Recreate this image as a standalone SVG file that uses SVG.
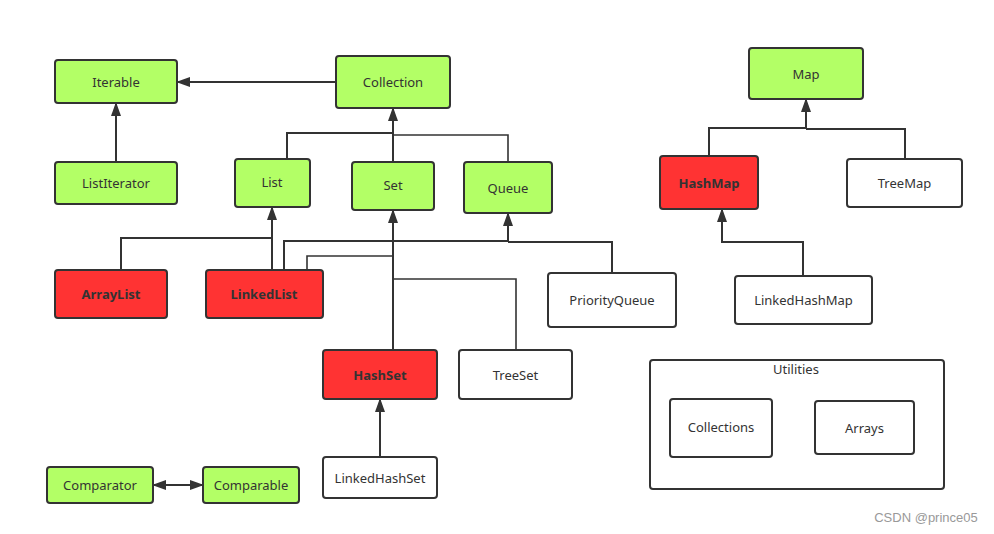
<svg xmlns="http://www.w3.org/2000/svg" width="994" height="534" viewBox="0 0 994 534">
<style>
.n rect{stroke:#333;stroke-width:2}
.g rect{fill:#b3ff66}
.r rect{fill:#ff3333}
.w rect{fill:#fff}
text{font-family:"Noto Sans","Open Sans","Liberation Sans",sans-serif;font-size:13px;fill:#333;text-anchor:middle;dominant-baseline:central}
.r text{font-weight:bold}
#conn path{fill:none;stroke:#333;stroke-width:2}
</style>
<defs>
<marker id="ah" markerUnits="userSpaceOnUse" markerWidth="14" markerHeight="10" refX="13" refY="5" orient="auto">
<path d="M0,0 L14,5 L0,10 z" fill="#333"/>
</marker>
<marker id="as" markerUnits="userSpaceOnUse" markerWidth="14" markerHeight="10" refX="1" refY="5" orient="auto">
<path d="M14,0 L0,5 L14,10 z" fill="#333"/>
</marker>
</defs>
<rect width="994" height="534" fill="#fff"/>
<g id="conn">
<path d="M336,82 H177" marker-end="url(#ah)"/>
<path d="M116,162 V103" marker-end="url(#ah)"/>
<path d="M287,159 V133 H393 V108" marker-end="url(#ah)"/>
<path d="M393,162 V133"/>
<path d="M508,162 V135 H393" style="stroke-width:1.6"/>
<path d="M121,270 V238 H272 V207" marker-end="url(#ah)"/>
<path d="M272,270 V238"/>
<path d="M284,270 V241 H508 V213" marker-end="url(#ah)"/>
<path d="M612,273 V242 H508"/>
<path d="M307,270 V256 H393" style="stroke-width:1.6"/>
<path d="M393,350 V210" marker-end="url(#ah)"/>
<path d="M516,350 V279 H393" style="stroke-width:1.6"/>
<path d="M380,457 V399" marker-end="url(#ah)"/>
<path d="M709,156 V128 H806 V99" marker-end="url(#ah)"/>
<path d="M905,159 V129 H806"/>
<path d="M803,276 V242 H722 V209" marker-end="url(#ah)"/>
<path d="M153,485 H203" marker-start="url(#as)" marker-end="url(#ah)"/>
</g>
<g id="Iterable" class="n g"><rect x="55" y="60" width="122" height="43" rx="3"/><text x="116" y="81.5">Iterable</text></g>
<g id="Collection" class="n g"><rect x="336" y="56" width="114" height="52" rx="3"/><text x="393" y="82">Collection</text></g>
<g id="ListIterator" class="n g"><rect x="55" y="162" width="122" height="42" rx="3"/><text x="116" y="183">ListIterator</text></g>
<g id="List" class="n g"><rect x="235" y="159" width="75" height="48" rx="3"/><text x="272" y="182">List</text></g>
<g id="Set" class="n g"><rect x="352" y="162" width="82" height="48" rx="3"/><text x="393" y="185">Set</text></g>
<g id="Queue" class="n g"><rect x="464" y="162" width="88" height="51" rx="3"/><text x="508" y="187.5">Queue</text></g>
<g id="ArrayList" class="n r"><rect x="55" y="270" width="112" height="48" rx="3"/><text x="111" y="294">ArrayList</text></g>
<g id="LinkedList" class="n r"><rect x="206" y="270" width="117" height="48" rx="3"/><text x="264" y="294">LinkedList</text></g>
<g id="PriorityQueue" class="n w"><rect x="548" y="273" width="128" height="54" rx="3"/><text x="612" y="300">PriorityQueue</text></g>
<g id="HashSet" class="n r"><rect x="323" y="350" width="114" height="49" rx="3"/><text x="380" y="374.5">HashSet</text></g>
<g id="TreeSet" class="n w"><rect x="459" y="350" width="113" height="49" rx="3"/><text x="515.5" y="374.5">TreeSet</text></g>
<g id="LinkedHashSet" class="n w"><rect x="323" y="457" width="114" height="41" rx="3"/><text x="380" y="477.5">LinkedHashSet</text></g>
<g id="Map" class="n g"><rect x="749" y="48" width="114" height="51" rx="3"/><text x="806" y="73.5">Map</text></g>
<g id="HashMap" class="n r"><rect x="660" y="156" width="98" height="53" rx="3"/><text x="709" y="182.5">HashMap</text></g>
<g id="TreeMap" class="n w"><rect x="847" y="159" width="115" height="48" rx="3"/><text x="904.5" y="183">TreeMap</text></g>
<g id="LinkedHashMap" class="n w"><rect x="735" y="276" width="137" height="48" rx="3"/><text x="803.5" y="300">LinkedHashMap</text></g>
<g id="Comparator" class="n g"><rect x="47" y="467" width="106" height="36" rx="3"/><text x="100" y="485">Comparator</text></g>
<g id="Comparable" class="n g"><rect x="203" y="467" width="96" height="36" rx="3"/><text x="251" y="485">Comparable</text></g>
<g id="Utilities" class="n w"><rect x="650" y="360" width="294" height="129" rx="3"/><text x="796" y="369">Utilities</text></g>
<g id="Collections" class="n w"><rect x="670" y="399" width="102" height="58" rx="3"/><text x="721" y="427">Collections</text></g>
<g id="Arrays" class="n w"><rect x="815" y="401" width="99" height="53" rx="3"/><text x="864.5" y="427.5">Arrays</text></g>
<text x="926" y="517" style="font-family:'Liberation Sans',Arial,sans-serif;font-size:13px;fill:#999">CSDN @prince05</text>
</svg>
